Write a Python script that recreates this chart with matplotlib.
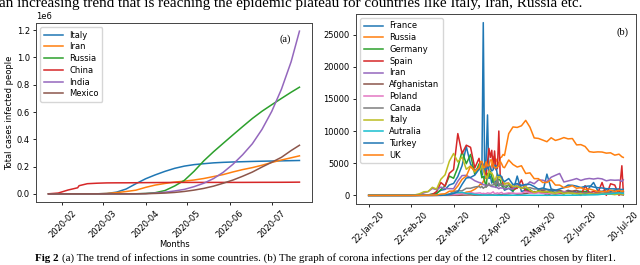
import matplotlib
matplotlib.use('Agg')
import matplotlib.pyplot as plt
import matplotlib.dates as mdates
import numpy as np
from datetime import datetime

# ---------------- (a) cumulative cases ----------------
dates_a = ['2020-01-22', '2020-01-29', '2020-02-05', '2020-02-12', '2020-02-13', '2020-02-19',
           '2020-02-26', '2020-03-04', '2020-03-11', '2020-03-18', '2020-03-25', '2020-04-01',
           '2020-04-08', '2020-04-15', '2020-04-22', '2020-04-29', '2020-05-06', '2020-05-13',
           '2020-05-20', '2020-05-27', '2020-06-03', '2020-06-10', '2020-06-17', '2020-06-24',
           '2020-07-01', '2020-07-08', '2020-07-15', '2020-07-21']
countries_a = ['Italy', 'Iran', 'Russia', 'China', 'India', 'Mexico']
italy_total = [0, 0, 2, 3, 3, 3, 453, 3089, 12462, 35713, 74386, 110574, 139422, 165155, 187327,
               203591, 214457, 221216, 227364, 231139, 233836, 235763, 237828, 239410, 240760,
               242149, 243506, 244752]
iran_total = [0, 0, 0, 0, 0, 2, 139, 2922, 9000, 17361, 27017, 47593, 64586, 76389, 85996, 93657,
              101650, 112725, 126949, 141591, 160696, 177938, 192439, 209970, 230211, 248379,
              264561, 278827]
russia_total = [0, 0, 2, 2, 2, 2, 2, 3, 20, 147, 658, 2777, 8672, 24490, 57999, 99399, 165929,
                242271, 308705, 370680, 432277, 493023, 552549, 606043, 653479, 699749, 745197,
                782040]
china_total = [548, 6087, 28109, 44730, 59882, 74577, 78190, 80409, 80921, 81102, 81661, 82361,
               82809, 83356, 83868, 83944, 83970, 84024, 84063, 84106, 84159, 84198, 84494, 84701,
               84816, 85009, 85405, 86045]
india_total = [0, 0, 3, 3, 3, 3, 3, 28, 62, 151, 657, 1998, 5916, 12322, 21370, 33062, 52952,
               78055, 112028, 158086, 216919, 286579, 367264, 473105, 604641, 767296, 968876,
               1193078]
mexico_total = [0, 0, 0, 0, 0, 0, 0, 5, 7, 118, 405, 1378, 3181, 5847, 10544, 17799, 27634, 40186,
                56594, 78023, 101238, 129184, 159793, 196847, 231770, 268008, 317635, 356255]

# ---------------- (b) daily new cases ----------------
day_index = [0, 10, 20, 30,
             33, 36, 39, 42, 45, 48, 51, 54, 57, 60, 63, 66, 69, 72, 75,
             78, 79, 80, 81, 82, 83, 84, 85, 86, 87, 88, 89, 90, 91, 92, 93, 94, 95, 96,
             99, 102, 105, 108, 111, 114, 117, 120, 123, 126, 129, 132, 135, 138, 141, 144,
             147, 150, 153, 156, 159, 162, 165, 168, 171, 174, 177,
             179, 180]
xtick_labels_b = ['22-Jan-20', '22-Feb-20', '22-Mar-20', '22-Apr-20', '22-May-20', '22-Jun-20', '20-Jul-20']
countries_b = ['France', 'Russia', 'Germany', 'Spain', 'Iran', 'Afghanistan', 'Poland', 'Canada',
               'Italy', 'Autralia', 'Turkey', 'UK']

france_daily = [0, 0, 0, 0,
                2, 20, 43, 73, 190, 370, 785, 924, 1617, 1847, 2929, 4611, 7578, 4861, 3900,
                4286, 4342, 3114, 26849, 2673, 5497, 12500, 2633, 3000, 1900, 2600, 2000, 2300, 1500, 1800, 1600, 1700, 1400, 800,
                1100, 600, 3000, 600, 800, 700, 500, 600, 400, 3300, 1000, 800, 600, 400, 800, 500, 700, 600, 400, 1200, 2000, 700, 600, 900, 600, 800, 1000,
                500, 600]
russia_daily = [0, 0, 0, 0,
                0, 0, 0, 0, 0, 10, 30, 20, 50, 70, 160, 230, 500, 600, 950,
                1460, 1786, 1667, 2186, 2558, 2774, 3388, 3448, 4070, 4785, 6060, 4268, 5642, 5236, 4774, 5849, 5966, 6361, 6198,
                9600, 10633, 10559, 10817, 11656, 10598, 8926, 8849, 8599, 8338, 8952, 8536, 8726, 8985, 8779, 8835, 7843, 7889, 7600, 6800, 6700, 6760, 6736, 6562, 6615, 6248, 6406,
                6000, 5900]
germany_daily = [0, 0, 0, 0,
                 0, 20, 50, 60, 170, 280, 900, 1477, 2993, 2660, 4337, 6824, 4923, 6365, 3251,
                 4885, 3990, 2737, 2946, 2218, 1287, 3394, 2945, 3699, 2945, 2018, 1881, 1226, 2357, 2481, 2337, 1514, 1257, 988,
                 1627, 697, 1284, 1251, 933, 913, 342, 745, 431, 362, 738, 342, 407, 214, 555, 247, 345, 601, 587, 477, 262, 503, 239, 397, 378, 159, 534,
                 252, 159]
spain_daily = [0, 0, 0, 0,
               0, 10, 30, 60, 130, 600, 2000, 1438, 3431, 4000, 9600, 6500, 7800, 7472, 4273,
               5756, 4576, 4830, 4167, 3477, 3045, 5103, 7304, 5891, 7000, 4218, 6900, 3968, 4211, 10000, 2800, 2915, 1729, 1831,
               1900, 1000, 1100, 2400, 600, 700, 400, 500, 500, 0, 300, 200, 300, 300, 500, 300, 400, 0, 1500, 400, 600, 400, 2000, 0, 1800, 1600, 0,
               4600, 600]
iran_daily = [0, 0, 0, 0,
              18, 106, 385, 586, 1076, 881, 1289, 1053, 1046, 1028, 2206, 3076, 3110, 2715, 2274,
              1997, 1972, 1837, 1657, 1617, 1574, 1512, 1606, 1499, 1374, 1343, 1294, 1297, 1194, 1030, 1168, 1134, 1153, 1006,
              1073, 976, 1680, 1529, 1481, 2102, 1806, 2392, 2364, 2111, 2819, 3117, 3400, 2079, 2238, 2410, 2612, 2322, 2531, 2628, 2536, 2652, 2560, 2262, 2397, 2349, 2379,
              2166, 2414]
afghanistan_daily = [0, 0, 0, 0,
                     1, 0, 0, 0, 0, 0, 4, 5, 0, 16, 10, 30, 50, 70, 30,
                     40, 37, 34, 56, 52, 49, 51, 70, 65, 66, 63, 30, 30, 58, 88, 80, 111, 105, 180,
                     235, 330, 168, 215, 285, 413, 581, 531, 782, 580, 866, 759, 787, 542, 683, 664, 785, 346, 400, 460, 234, 302, 300, 200, 180, 200, 150,
                     100, 60]
poland_daily = [0, 0, 0, 0,
                0, 0, 0, 1, 4, 10, 35, 80, 105, 115, 150, 260, 250, 440, 300,
                370, 380, 250, 320, 270, 270, 380, 336, 300, 400, 545, 263, 313, 380, 300, 381, 460, 263, 268,
                380, 300, 300, 330, 600, 380, 300, 400, 300, 250, 350, 290, 400, 600, 400, 400, 300, 300, 300, 280, 300, 300, 280, 300, 300, 300, 350,
                300, 250]
canada_daily = [0, 0, 0, 0,
                0, 2, 4, 2, 9, 16, 30, 100, 200, 600, 700, 700, 1100, 1100, 1300,
                1400, 1200, 1400, 1100, 1300, 1300, 1500, 1900, 1500, 1600, 1600, 2000, 1600, 2800, 1400, 1800, 1600, 1600, 1400,
                1600, 1400, 1300, 1200, 1100, 1200, 1000, 1000, 900, 900, 700, 700, 600, 450, 450, 400, 300, 350, 300, 300, 250, 300, 300, 400, 350, 400, 400,
                300, 500]
italy_daily = [0, 0, 0, 0,
               93, 250, 560, 590, 1250, 980, 2500, 3200, 5300, 6500, 5200, 5970, 4050, 4585, 3600,
               4200, 3950, 4690, 4090, 3150, 2970, 2670, 3790, 3490, 3490, 3050, 2260, 2730, 3370, 2650, 3020, 2360, 2320, 1740,
               1870, 1390, 1440, 1080, 1400, 790, 450, 640, 530, 580, 420, 320, 520, 280, 380, 340, 210, 260, 120, 260, 170, 200, 190, 190, 190, 110, 230,
               220, 130]
australia_daily = [0, 0, 0, 0,
                   0, 0, 4, 10, 15, 30, 60, 80, 150, 380, 400, 460, 300, 280, 140,
                   100, 90, 60, 40, 40, 30, 40, 30, 40, 50, 20, 30, 20, 10, 20, 10, 10, 20, 10,
                   10, 20, 15, 20, 15, 20, 10, 15, 10, 15, 15, 10, 20, 10, 20, 20, 20, 40, 50, 70, 80, 100, 180, 200, 250, 300, 400,
                   350, 300]
turkey_daily = [0, 0, 0, 0,
                0, 0, 0, 0, 0, 0, 4, 30, 150, 290, 561, 1704, 2704, 2786, 3148,
                4056, 4747, 5138, 4789, 4093, 4062, 4281, 4801, 4353, 3783, 3977, 4674, 4611, 3083, 3116, 3122, 2861, 2357, 2131,
                2615, 1670, 1832, 1546, 1704, 1708, 1368, 961, 1141, 948, 839, 786, 988, 1195, 1592, 1562, 1429, 1214, 1396, 1458, 1293, 1192, 1148, 1041, 1016, 1008, 926,
                918, 913]
uk_daily = [0, 0, 0, 0,
            0, 5, 12, 30, 45, 50, 200, 250, 650, 670, 1450, 2500, 3000, 4500, 3800,
            4300, 5200, 5300, 4400, 4300, 5200, 4600, 4600, 5500, 5500, 4700, 4300, 4300, 4400, 4600, 5300, 4900, 4400, 4300,
            5500, 4800, 4400, 4600, 3400, 3500, 2600, 2600, 2000, 2000, 2400, 1600, 1600, 1200, 1300, 1500, 1100, 1200, 900, 1000, 800, 600, 600, 600, 800, 600, 800,
            600, 700]

top_text = "an increasing trend that is reaching the epidemic plateau for countries like Italy, Iran, Russia etc."
caption_bold = "Fig 2"
caption_rest = "(a) The trend of infections in some countries. (b) The graph of corona infections per day of the 12 countries chosen by fliter1."

# ---------------- drawing ----------------
plt.rcParams['font.family'] = ['DejaVu Sans']
plt.rcParams['font.size'] = 6
plt.rcParams['xtick.major.size'] = 2.5
plt.rcParams['ytick.major.size'] = 2.5
plt.rcParams['xtick.major.width'] = 0.6
plt.rcParams['ytick.major.width'] = 0.6
plt.rcParams['xtick.major.pad'] = 2
plt.rcParams['ytick.major.pad'] = 2

fig = plt.figure(figsize=(6.4, 2.65), dpi=100)
serif = ['Liberation Serif', 'DejaVu Serif']

# panel (a)
axA = fig.add_axes([0.05625, 0.2377, 0.43125, 0.6755])
xa = [datetime.strptime(d, '%Y-%m-%d') for d in dates_a]
series_a = [italy_total, iran_total, russia_total, china_total, india_total, mexico_total]
for name, vals in zip(countries_a, series_a):
    axA.plot(xa, vals, lw=1.1, label=name)
axA.xaxis.set_major_locator(mdates.MonthLocator())
axA.xaxis.set_major_formatter(mdates.DateFormatter('%Y-%m'))
for lab in axA.get_xticklabels():
    lab.set_rotation(45)
axA.set_xlabel('Months', labelpad=1)
axA.set_ylabel('Total cases infected people', labelpad=2)
axA.legend(loc='upper left', fontsize=6, handlelength=2.3, labelspacing=0.33)
axA.text(0.922, 0.935, '(a)', transform=axA.transAxes, ha='right', va='top',
         family=serif, fontsize=7.5)

# panel (b)
axB = fig.add_axes([0.55625, 0.2302, 0.4375, 0.717])
series_b = [france_daily, russia_daily, germany_daily, spain_daily, iran_daily, afghanistan_daily,
            poland_daily, canada_daily, italy_daily, australia_daily, turkey_daily, uk_daily]
colors = plt.rcParams['axes.prop_cycle'].by_key()['color']
for i, (name, vals) in enumerate(zip(countries_b, series_b)):
    axB.plot(day_index, vals, lw=1.1, label=name, color=colors[i % 10])
tick_pos = np.linspace(day_index[0], day_index[-1], len(xtick_labels_b))
axB.set_xticks(tick_pos)
axB.set_xticklabels(xtick_labels_b, rotation=45)
axB.legend(loc='upper left', fontsize=6, handlelength=2.3, labelspacing=0.33)
axB.text(0.9725, 0.93, '(b)', transform=axB.transAxes, ha='right', va='top',
         family=serif, fontsize=7.5)

for ax in (axA, axB):
    for sp in ax.spines.values():
        sp.set_linewidth(0.7)
        sp.set_color('#444444')

# texts around
fig.text(-0.001, 1 - 7.5 / 265, top_text, family=serif, fontsize=10.9, ha='left', va='baseline')
t1 = fig.text(35 / 640, 1 - 261 / 265, caption_bold, family=serif, fontsize=7.9,
              weight='bold', ha='left', va='baseline')
axA.annotate(caption_rest, xy=(1, 0), xycoords=t1, xytext=(2.5, 0), textcoords='offset points',
             family=serif, fontsize=7.9, ha='left', va='bottom', annotation_clip=False)

fig.savefig('out.png', dpi=100)
